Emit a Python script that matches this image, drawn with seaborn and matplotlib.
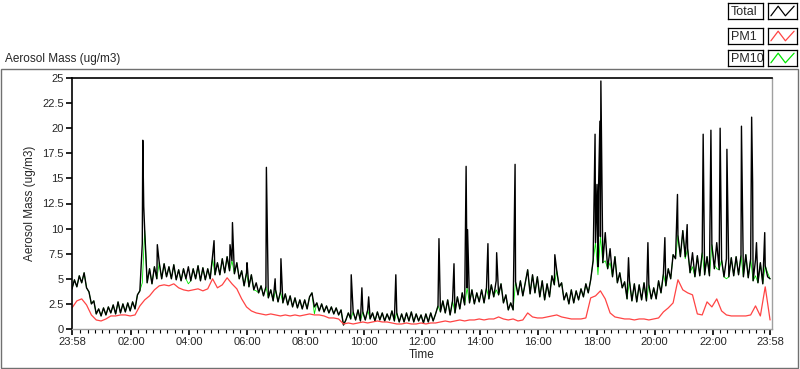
import numpy as np
import pandas as pd
import seaborn as sns
import matplotlib.pyplot as plt
from matplotlib.patches import Rectangle

# -------------------------------------------------------------------
# Data (minutes after 23:58, values in ug/m3)
# -------------------------------------------------------------------
total_minutes = np.arange(0, 1445, 5)
total_vals = [
    4.0, 4.9, 4.2, 5.3, 4.6, 5.6, 4.1, 3.7, 2.5, 2.8, 1.5, 2.0,
    1.3, 2.1, 1.4, 2.2, 1.6, 2.4, 1.5, 2.7, 1.6, 2.5, 1.7, 2.6,
    1.8, 2.7, 2.0, 3.4, 3.8, 8.5, 9.8, 4.6, 6.0, 4.5, 6.2, 5.0,
    6.6, 5.0, 6.5, 5.2, 6.2, 5.0, 6.4, 4.9, 5.9, 4.8, 6.0, 5.0,
    6.2, 4.8, 6.0, 5.0, 6.3, 4.8, 6.1, 4.9, 6.0, 5.0, 7.3, 5.4,
    6.6, 5.4, 7.0, 5.6, 7.2, 5.8, 6.8, 5.5, 6.6, 5.0, 5.8, 4.3,
    5.6, 4.2, 5.4, 3.9, 4.6, 3.6, 4.3, 3.3, 4.2, 3.1, 3.9, 2.8,
    3.9, 2.7, 3.7, 2.6, 3.5, 2.4, 3.3, 2.2, 3.1, 2.1, 2.9, 2.0,
    2.9, 2.0, 3.2, 3.6, 2.2, 2.6, 1.8, 2.5, 1.7, 2.3, 1.6, 2.2,
    1.5, 2.1, 1.4, 1.9, 0.4, 0.9, 1.6, 1.0, 1.7, 0.9, 1.9, 0.8,
    1.7, 0.9, 1.9, 1.0, 1.6, 0.8, 1.7, 0.9, 1.6, 0.8, 1.5, 0.9,
    1.8, 0.8, 1.6, 0.7, 1.5, 0.7, 1.6, 0.8, 1.7, 0.7, 1.5, 0.8,
    1.4, 0.6, 1.5, 0.7, 1.6, 0.8, 1.5, 2.3, 1.7, 2.8, 1.6, 2.9,
    1.4, 2.8, 1.6, 3.2, 2.0, 3.6, 2.4, 4.1, 2.6, 3.9, 2.5, 3.6,
    2.7, 3.9, 2.6, 4.1, 3.0, 4.4, 3.2, 4.8, 3.4, 4.5, 2.6, 3.4,
    1.9, 2.6, 1.9, 4.7, 3.4, 4.8, 3.3, 4.6, 5.9, 3.5, 5.4, 3.6,
    5.2, 3.2, 4.8, 2.9, 4.5, 3.2, 5.3, 4.4, 5.8, 4.2, 4.6, 2.9,
    3.6, 2.5, 3.9, 2.6, 3.8, 2.9, 4.0, 3.2, 4.5, 3.6, 4.9, 6.8,
    8.6, 6.2, 9.2, 6.6, 9.6, 6.0, 8.0, 5.2, 7.2, 4.6, 5.6, 4.1,
    4.7, 3.0, 4.8, 2.8, 4.5, 2.7, 4.4, 2.9, 4.6, 2.8, 4.4, 3.0,
    4.1, 3.0, 4.8, 3.6, 5.5, 4.3, 6.0, 5.0, 7.4, 7.0, 9.3, 7.2,
    9.8, 7.2, 8.0, 5.6, 7.6, 5.2, 7.3, 5.3, 7.6, 5.4, 7.2, 5.3,
    8.4, 6.0, 8.6, 5.9, 6.9, 5.2, 7.0, 5.2, 7.1, 5.3, 7.2, 5.4,
    7.3, 5.2, 7.4, 5.1, 7.0, 4.8, 6.9, 4.6, 6.6, 4.5, 6.3, 5.2,
    5.0,
]

# short spikes in the total mass
spike_minutes = [146, 148, 176, 293, 326, 331, 361, 401, 403, 419,
                 431, 576, 598, 612, 668, 757, 788, 813, 816, 858,
                 876, 912, 914, 996, 1079, 1083, 1086, 1089, 1091, 1148,
                 1188, 1223, 1249, 1269, 1302, 1318, 1337, 1351, 1381, 1402,
                 1404, 1412, 1429]
spike_vals = [18.8, 12.2, 8.4, 8.8, 8.4, 10.6, 6.6, 16.1, 9.7, 5.0,
              7.0, 5.4, 4.1, 3.2, 5.4, 9.0, 6.5, 16.2, 9.9, 8.5,
              7.6, 9.3, 16.4, 7.4, 19.4, 14.4, 13.6, 20.7, 24.7, 7.1,
              8.6, 9.1, 13.4, 10.4, 19.4, 19.8, 20.0, 17.9, 20.2, 21.1,
              14.6, 8.6, 9.6]

pm1_minutes = np.arange(0, 1450, 10)
pm1_vals = [
    2.1, 2.8, 3.0, 2.4, 1.4, 0.9, 0.8, 1.0, 1.3, 1.3, 1.4, 1.4,
    1.3, 1.4, 2.3, 2.9, 3.3, 3.9, 4.3, 4.4, 4.3, 4.5, 4.1, 3.9,
    3.8, 3.9, 4.0, 3.8, 4.0, 5.0, 4.1, 4.4, 5.1, 4.5, 4.0, 3.0,
    2.2, 1.8, 1.6, 1.5, 1.4, 1.5, 1.4, 1.3, 1.4, 1.3, 1.4, 1.3,
    1.4, 1.5, 1.4, 1.4, 1.3, 1.1, 1.1, 1.0, 0.5, 0.6, 0.5, 0.6,
    0.7, 0.6, 0.7, 0.8, 0.7, 0.7, 0.6, 0.5, 0.5, 0.6, 0.5, 0.5,
    0.6, 0.5, 0.6, 0.6, 0.7, 0.8, 0.7, 0.8, 0.9, 0.8, 0.9, 0.9,
    1.0, 0.9, 1.0, 1.0, 1.2, 1.0, 0.9, 1.0, 0.8, 0.9, 1.6, 1.2,
    1.1, 1.1, 1.2, 1.3, 1.4, 1.2, 1.1, 1.0, 1.0, 1.0, 1.1, 3.1,
    3.3, 3.8, 3.0, 1.6, 1.2, 1.1, 1.0, 1.0, 0.9, 1.0, 1.0, 0.9,
    1.0, 1.1, 1.7, 2.1, 2.6, 4.9, 3.9, 3.6, 3.4, 1.5, 1.4, 2.7,
    2.2, 3.0, 1.8, 1.4, 1.3, 1.3, 1.3, 1.3, 1.4, 2.3, 1.3, 4.2,
    0.9,
]

# PM10 follows the total except at these moments
pm10_minutes = [145, 240, 290, 380, 500, 875, 1085, 1100, 1110,
                1265, 1280, 1325, 1330, 1350, 1410, 1435]
pm10_vals = [4.6, 4.5, 7.0, 3.8, 1.5, 3.9, 5.4, 6.8, 6.6,
             7.0, 6.2, 6.4, 6.0, 5.0, 5.3, 5.6]

tick_minutes = [0, 122, 242, 362, 482, 602, 722, 842, 962, 1082, 1202, 1322, 1440]
tick_labels = ["23:58", "02:00", "04:00", "06:00", "08:00", "10:00", "12:00",
               "14:00", "16:00", "18:00", "20:00", "22:00", "23:58"]
y_ticks = [0, 2.5, 5, 7.5, 10, 12.5, 15, 17.5, 20, 22.5, 25]
y_labels = ["0", "2.5", "5", "7.5", "10", "12.5", "15", "17.5", "20", "22.5", "25"]

# -------------------------------------------------------------------
# Build frames
# -------------------------------------------------------------------
grid_df = pd.DataFrame({"t": total_minutes, "v": total_vals})
total_df = pd.concat([grid_df, pd.DataFrame({"t": spike_minutes, "v": spike_vals})])
total_df = total_df.sort_values("t").reset_index(drop=True)

pm10_s = pd.Series(total_vals, index=total_minutes, dtype=float)
pm10_s.loc[pm10_minutes] = pm10_vals
pm10_df = pd.DataFrame({"t": pm10_s.index, "v": pm10_s.values})

pm1_df = pd.DataFrame({"t": pm1_minutes, "v": pm1_vals})

# -------------------------------------------------------------------
# Plot
# -------------------------------------------------------------------
sns.set_theme(style="white")
plt.rcParams["font.family"] = ["Liberation Sans", "DejaVu Sans"]

W, H = 800, 369
fig = plt.figure(figsize=(W / 100, H / 100), dpi=100)
fig.patch.set_facecolor("white")
ax = fig.add_axes([72 / W, 1 - 329 / H, 700 / W, 251 / H])

# PM10 under the total, thin so that it only shows where it differs
sns.lineplot(data=pm10_df, x="t", y="v", ax=ax, color="#00E600", lw=0.6,
             estimator=None, sort=False)
sns.lineplot(data=total_df, x="t", y="v", ax=ax, color="black", lw=1.0,
             estimator=None, sort=False)
sns.lineplot(data=pm1_df, x="t", y="v", ax=ax, color="#FF4444", lw=0.9,
             estimator=None, sort=False)

ax.set_xlim(0, 1444)
ax.set_ylim(0, 25)
ax.set_xticks(tick_minutes)
ax.set_xticklabels(tick_labels, fontsize=8)
ax.set_xticks(np.arange(17, 1440, 15), minor=True)
ax.set_yticks(y_ticks)
ax.set_yticklabels(y_labels, fontsize=8)
ax.tick_params(axis="both", which="major", direction="out", length=4, width=1.2,
               color="black", pad=2, bottom=True, left=True)
ax.tick_params(axis="x", which="minor", direction="out", length=3, width=0.8,
               color="black", bottom=True)

ax.set_xlabel("Time", fontsize=8.5, labelpad=1)
ax.set_ylabel("Aerosol Mass (ug/m3)", fontsize=8.5)
ax.yaxis.set_label_coords(-0.052, 0.5)

for side in ["left", "top"]:
    ax.spines[side].set_color("black")
    ax.spines[side].set_linewidth(1.2)
for side in ["right", "bottom"]:
    ax.spines[side].set_color("#A0A0A0")
    ax.spines[side].set_linewidth(1.0)

# panel border and title
fig.patches.append(Rectangle((1 / W, 1 / H), 797 / W, 299 / H, fill=False,
                             ec="#707070", lw=1.0, transform=fig.transFigure))
fig.text(5 / W, 1 - 59 / H, "Aerosol Mass (ug/m3)", fontsize=8.5, va="center")

# LabVIEW style legend
legend_names = ["Total", "PM1", "PM10"]
legend_colors = ["black", "#FF4444", "#00E600"]
row_tops = [3, 28, 50]
for name, col, top in zip(legend_names, legend_colors, row_tops):
    lab_ax = fig.add_axes([728 / W, 1 - (top + 16) / H, 35 / W, 16 / H])
    lab_ax.set_xticks([])
    lab_ax.set_yticks([])
    lab_ax.text(0.08, 0.45, name, fontsize=9, va="center", ha="left",
                transform=lab_ax.transAxes)
    smp_ax = fig.add_axes([768 / W, 1 - (top + 16) / H, 29 / W, 16 / H])
    smp_ax.set_xticks([])
    smp_ax.set_yticks([])
    smp_ax.plot([0.1, 0.35, 0.6, 0.9], [0.2, 0.8, 0.2, 0.8], color=col, lw=0.9)
    smp_ax.set_xlim(0, 1)
    smp_ax.set_ylim(0, 1)
    for a in (lab_ax, smp_ax):
        for s in a.spines.values():
            s.set_color("black")
            s.set_linewidth(0.9)

fig.savefig("out.png", dpi=100)
